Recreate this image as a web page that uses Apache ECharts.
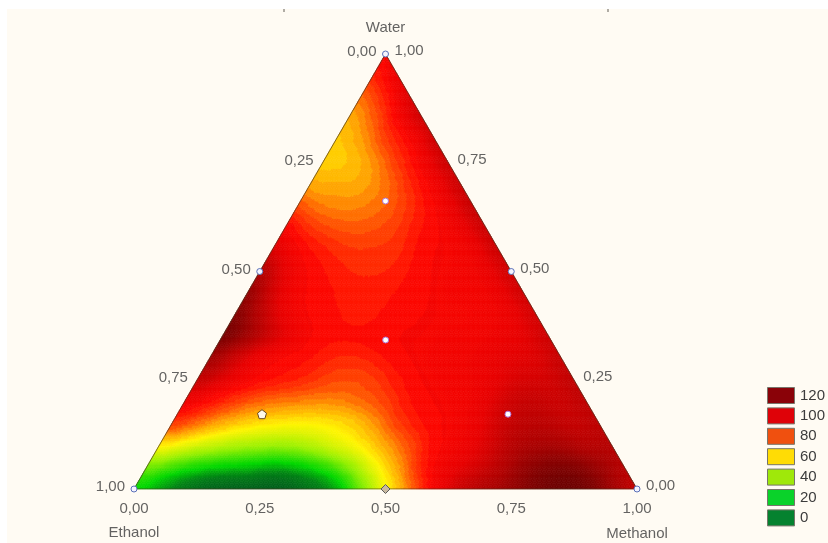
<!DOCTYPE html>
<html><head><meta charset="utf-8">
<style>html,body{margin:0;padding:0;background:#fff}#c{width:828px;height:543px;filter:blur(0.6px)}</style>
<script src="https://cdn.jsdelivr.net/npm/echarts@6/dist/echarts.min.js"></script>
</head><body><div id="c"></div>
<script>
// Response values on a triangular lattice: row 0 is the Water = 0 edge, each row runs Ethanol side -> Methanol side
const row00=[20,10,4,0,0,0,0,4,10,32,58,78,98,106,110,113,117,119,118,112,105];
const row01=[37,26,20,17,16,12,15,22,36,56,72,92,98,102,107,113,116,116,112,107];
const row02=[66,56,50,45,43,42,47,56,62,72,82,94,97,102,108,110,110,107,108];
const row03=[90,79,71,65,62,60,60,63,72,86,92,95,98,104,107,107,105,107];
const row04=[100,93,85,79,77,76,76,80,84,92,95,96,100,105,106,104,107];
const row05=[107,102,97,93,90,85,82,84,91,95,96,97,100,103,103,107];
const row06=[113,103,96,93,92,88,88,92,95,96,97,99,101,101,106];
const row07=[119,113,105,98,93,93,94,95,95,96,96,98,100,105];
const row08=[116,107,98,94,92,89,92,94,95,95,96,98,104];
const row09=[115,103,95,93,90,90,92,94,96,96,98,105];
const row10=[111,100,94,90,88,88,92,95,96,98,105];
const row11=[103,95,90,86,86,87,94,95,97,106];
const row12=[96,86,82,81,83,89,94,98,106];
const row13=[83,76,75,77,82,91,98,107];
const row14=[71,71,71,77,88,97,106];
const row15=[65,66,73,86,97,106];
const row16=[66,72,85,93,106];
const row17=[69,79,96,106];
const row18=[77,89,104];
const row19=[87,101];
const row20=[95];
const lattice=[row00,row01,row02,row03,row04,row05,row06,row07,row08,row09,row10,row11,row12,row13,row14,row15,row16,row17,row18,row19,row20];

// Design points as [methanol, water] fractions
const vertexPoints=[[0,0],[1,0],[0,1],[0,0.5],[0.5,0.5]];
const midBasePoint=[[0.5,0]];
const innerPoints=[[0.169,0.662],[0.329,0.3425],[0.6575,0.172]];
const hollowPoint=[[0.1685,0.172]];

// Tick labels on each side as [methanol, water, text]
const leftTicks=[[0,0,'1,00'],[0,0.25,'0,75'],[0,0.5,'0,50'],[0,0.75,'0,25'],[0,1,'0,00']];
const rightTicks=[[1,0,'0,00'],[0.75,0.25,'0,25'],[0.5,0.5,'0,50'],[0.25,0.75,'0,75'],[0,1,'1,00']];
const baseTicks=[[0,0,'0,00'],[0.25,0,'0,25'],[0.5,0,'0,50'],[0.75,0,'0,75'],[1,0,'1,00']];
const cornerNames=[[0,1,'Water',0,-26],[0,0,'Ethanol',0,44],[1,0,'Methanol',0,45]];
const triangleOutline=[[0,0],[1,0],[0,1],[0,0]];

const legendLabels=['120','100','80','60','40','20','0'];
const legendColors=['#8a0208','#df0208','#f0500f','#ffdc05','#9fe80a','#0ad22a','#05822f'];

const stopValues=[0,10,20,40,60,72,82,92,100,110,120];
const stopColors=[[0,85,30],[0,130,20],[0,215,0],[150,240,0],[255,245,0],[255,165,0],[255,75,0],[255,8,0],[232,0,0],[170,0,0],[95,0,0]];
function colorOf(v){
  if(v<=stopValues[0])return 'rgb('+stopColors[0]+')';
  for(let i=1;i<stopValues.length;i++){
    if(v<=stopValues[i]){
      const t=(v-stopValues[i-1])/(stopValues[i]-stopValues[i-1]);
      const a=stopColors[i-1],b=stopColors[i];
      return 'rgb('+[0,1,2].map(n=>Math.round(a[n]+(b[n]-a[n])*t)).join(',')+')';
    }
  }
  return 'rgb('+stopColors[stopColors.length-1]+')';
}
// ternary [methanol, water] -> horizontal axis value
const tx=(m,w)=>m+w/2;
const N=lattice.length-1;
const H=Math.sqrt(3)/2;
const node=(i,j)=>[tx(j/N,i/N),i/N,lattice[i][j]];
const allNodes=[];
lattice.forEach((r,i)=>r.forEach((_,j)=>allNodes.push(node(i,j))));
// Contour shading between lattice nodes: a short-range weighted reading of the lattice
function shadeAt(x,y){
  const s=0.5/N,lim=(2.6*s)*(2.6*s);
  let sum=0,wt=0;
  for(const n of allNodes){
    const dx=x-n[0],dy=(y-n[1])*H,d=dx*dx+dy*dy;
    if(d>lim)continue;
    const k=Math.exp(-d/(2*s*s));
    sum+=k*n[2];wt+=k;
  }
  const v=sum/wt;
  return (v>62&&v<95)?Math.round(v/3)*3:v;
}
const cells=[];
for(let i=0;i<N;i++){
  for(let j=0;j<N-i;j++){
    cells.push([...node(i,j),...node(i,j+1),...node(i+1,j)]);
    if(j<N-i-1)cells.push([...node(i,j+1),...node(i+1,j+1),...node(i+1,j)]);
  }
}
const SUB=10;
function renderCell(params,api){
  const A=[api.value(0),api.value(1)],B=[api.value(3),api.value(4)],C=[api.value(6),api.value(7)];
  const at=(a,b)=>{const c=SUB-a-b;return [(a*A[0]+b*B[0]+c*C[0])/SUB,(a*A[1]+b*B[1]+c*C[1])/SUB];};
  const children=[];
  const add=(p,q,r)=>{
    const col=colorOf(shadeAt((p[0]+q[0]+r[0])/3,(p[1]+q[1]+r[1])/3));
    children.push({type:'polygon',silent:true,shape:{points:[api.coord(p),api.coord(q),api.coord(r)]},style:{fill:col,stroke:col,lineWidth:0.6}});
  };
  for(let a=0;a<SUB;a++)for(let b=0;b<SUB-a;b++){
    add(at(a,b),at(a+1,b),at(a,b+1));
    if(a+b<SUB-1)add(at(a+1,b),at(a+1,b+1),at(a,b+1));
  }
  return {type:'group',children};
}
const toXY=a=>a.map(p=>[tx(p[0],p[1]),p[1]]);
const textFont='"Liberation Sans",Arial,sans-serif';
function labelSeries(items,position,ox,oy){
  return {type:'scatter',symbolSize:0,silent:true,z:6,data:items.map(p=>({value:[tx(p[0],p[1]),p[1]],
    label:{show:true,position:position,distance:0,offset:[p[3]!==undefined?p[3]:ox,p[4]!==undefined?p[4]:oy],formatter:p[2],color:'#3c3c3c',fontSize:15,fontFamily:textFont}}))};
}
const pointStyle=(fill,stroke,bw)=>({color:fill,borderColor:stroke,borderWidth:bw,opacity:1});
const chart=echarts.init(document.getElementById('c'),null,{renderer:'canvas'});
const legendGraphics=[];
legendLabels.forEach((t,i)=>{
  legendGraphics.push({type:'rect',left:767,top:387+i*20.4,shape:{width:27,height:16},style:{fill:legendColors[i],stroke:'#77756a',lineWidth:1}});
  legendGraphics.push({type:'text',left:800,top:388+i*20.4,style:{text:t,fill:'#3c3c3c',font:'15px '+textFont}});
});
chart.setOption({
  animation:false,
  backgroundColor:'#fffbf3',
  grid:{left:134,right:191,top:54,bottom:54},
  xAxis:{type:'value',min:0,max:1,show:false},
  yAxis:{type:'value',min:0,max:1,show:false},
  tooltip:{show:false},
  graphic:[
    {type:'rect',left:0,top:0,shape:{width:828,height:9},style:{fill:'#ffffff'}},
    {type:'rect',left:0,top:0,shape:{width:7,height:543},style:{fill:'#ffffff'}},
    {type:'rect',left:283,top:9,shape:{width:2,height:3},style:{fill:'#b0aca4'}},
    {type:'rect',left:607,top:9,shape:{width:2,height:3},style:{fill:'#b0aca4'}},
    ...legendGraphics],
  series:[
    {type:'custom',coordinateSystem:'cartesian2d',renderItem:renderCell,data:cells,clip:false,silent:true,z:1,
      encode:{x:[0,3,6],y:[1,4,7]}},
    {type:'line',data:toXY(triangleOutline),symbol:'none',silent:true,z:3,lineStyle:{color:'#4a3420',width:1,opacity:0.7}},
    {type:'scatter',data:toXY(vertexPoints),symbol:'circle',symbolSize:6,silent:true,z:5,itemStyle:pointStyle('#f4f4ff','#5a70b8',1)},
    {type:'scatter',data:toXY(midBasePoint),symbol:'diamond',symbolSize:9,silent:true,z:5,itemStyle:pointStyle('#c9b9a0','#5a5a5a',1)},
    {type:'scatter',data:toXY(innerPoints),symbol:'circle',symbolSize:6,silent:true,z:5,itemStyle:pointStyle('#ffffff','#b070d0',1)},
    {type:'scatter',data:toXY(hollowPoint),symbol:'path://M0 -10L9.5 -3L6 8L-6 8L-9.5 -3Z',symbolSize:9,silent:true,z:5,itemStyle:pointStyle('#fff8e8','#6a4a20',1)},
    labelSeries(leftTicks,'left',-9,-2),
    labelSeries(rightTicks,'right',9,-3),
    labelSeries(baseTicks,'inside',0,19.5),
    labelSeries(cornerNames,'inside',0,0)
  ]
});
</script></body></html>
